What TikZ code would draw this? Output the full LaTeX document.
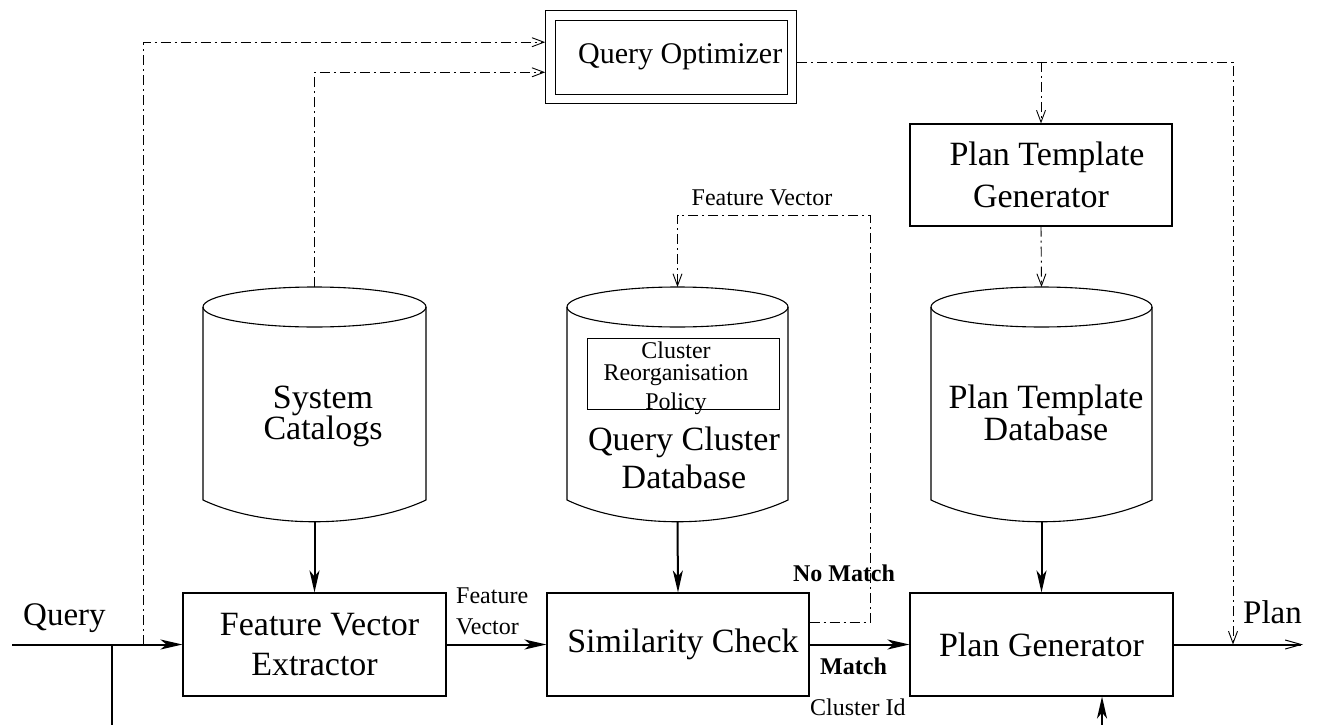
\documentclass[tikz,border=0pt]{standalone}
\usepackage{fontspec}
\setmainfont{Liberation Serif}
\usetikzlibrary{arrows.meta,calc}

% database drum: name, centre x, half width
\newcommand{\dbcyl}[3]{%
  \draw[cyl] (#2,307) ellipse [x radius=#3, y radius=20];
  \draw[cyl] (#2-#3,307) -- (#2-#3,500) .. controls (#2-0.45*#3,529) and (#2+0.45*#3,529) .. (#2+#3,500) -- (#2+#3,307);
  \coordinate (#1-top) at (#2,287);
  \coordinate (#1-bot) at (#2,522);
}

\begin{document}
\begin{tikzpicture}[x=1pt,y=1pt,yscale=-1,xscale=1,
  box/.style={draw, line width=1.1pt, minimum width=263pt, minimum height=103pt, inner sep=0pt, align=center, font=\fontsize{34}{40}\selectfont},
  cyl/.style={line width=1.1pt},
  lbl/.style={inner sep=0pt, font=\fontsize{24}{31}\selectfont},
  big/.style={inner sep=0pt, align=center, font=\fontsize{34}{31}\selectfont},
  flow/.style={line width=2pt, -{Stealth[length=22pt,width=10pt,inset=6pt]}},
  ctrl/.style={line width=0.9pt, dash pattern=on 10pt off 4pt on 2pt off 4pt, -{Straight Barb[length=12pt,width=9pt]}}]
\useasboundingbox (0,0) rectangle (1319,725);

%Databases
\dbcyl{syscat}{314.5}{111.5}
\dbcyl{qcdb}{677.5}{110.5}
\dbcyl{ptdb}{1041.5}{110.5}

% Boxes
\node[box] (fve) at (314.5,644.5) {\hspace*{10pt}Feature Vector\\Extractor};
\node[box, minimum width=262pt] (simchk) at (678,644.5) {\hspace*{10pt}Similarity Check};
\node[box] (plangen) at (1041.5,644.5) {Plan Generator};
\node[box, minimum width=262pt, minimum height=102pt, font=\fontsize{34}{42}\selectfont] (ptg) at (1041,175) {\hspace*{12pt}Plan Template\\Generator};
\node[draw, double, line width=1pt, double distance=8.5pt, outer sep=5.25pt, minimum width=241.5pt, minimum height=83.5pt, font=\fontsize{30}{36}\selectfont] (qopt) at (671.25,57.25) {\hspace*{18pt}Query Optimizer};
\node[draw, line width=1pt, minimum width=192pt, minimum height=71pt] (policy) at (683,373.5) {};

% Text Node
\node[big] (syscattxt) at (323,416) {System\\Catalogs};
\node[big, font=\fontsize{34}{38}\selectfont] (qcdbtxt) at (684,457.5) {Query Cluster\\Database};
\node[big, font=\fontsize{34}{32}\selectfont] (ptdbtxt) at (1046,412.5) {Plan Template\\Database};
\node[lbl, align=center, font=\fontsize{24}{22}\selectfont] (policytxt) at (676,378) {Cluster\\Reorganisation\\[7pt]Policy};
\node[lbl, anchor=base west, font=\fontsize{33}{36}\selectfont] (querytxt) at (23,625) {Query};
\node[lbl, anchor=base west, font=\fontsize{33}{36}\selectfont] (plantxt) at (1243,623) {Plan};
\node[lbl, anchor=north west, align=left] (fvtxt) at (456,588) {Feature\\Vector};
\node[lbl, anchor=base] (fvtoptxt) at (762,205) {Feature Vector};
\node[lbl, anchor=base, font=\fontsize{24}{31}\selectfont\bfseries] (nomatchtxt) at (844,581) {No Match};
\node[lbl, anchor=base west, font=\fontsize{24}{31}\selectfont\bfseries] (matchtxt) at (820,674) {Match};
\node[lbl, anchor=base west] (cidtxt) at (810,715) {Cluster Id};

% free ends and bends
\coordinate (qin) at (12,644.5);
\coordinate (qsplit) at (112,644.5);
\coordinate (qdown) at (112,725);
\coordinate (qtap) at (143,644.5);
\coordinate (plantap) at (1233,644.5);
\coordinate (planout) at (1303,644.5);
\coordinate (cidin) at (1102,725);
\coordinate (fvloop) at (870,215);
\coordinate (optin1) at ($(qopt.north west)!0.34!(qopt.south west)$);
\coordinate (optin2) at ($(qopt.north west)!0.66!(qopt.south west)$);
\coordinate (optout) at ($(qopt.north east)!0.55!(qopt.south east)$);
\coordinate (fvout) at ($(simchk.north east)!0.29!(simchk.south east)$);

%Straight Lines
\draw[flow] (qin) -- (fve.west);
\draw[line width=2pt] (qsplit) -- (qdown);
\draw[flow] (fve.east) -- (simchk.west);
\draw[flow] (simchk.east) -- (plangen.west);
\draw[line width=2pt, -{Straight Barb[length=16pt,width=9pt,line width=1pt]}] (plangen.east) -- (planout);
\draw[flow] (cidin) -- (cidin |- plangen.south);
\draw[flow] (syscat-bot) -- (fve.north);
\draw[flow] (qcdb-bot) -- (simchk.north);
\draw[flow] (ptdb-bot) -- (plangen.north);

%Dash-dot Lines
\draw[ctrl] (qtap) |- (optin1);
\draw[ctrl] (syscat-top) |- (optin2);
\draw[ctrl] (optout) -| (plantap);
\draw[ctrl] (ptg.north |- optout) -- (ptg.north);
\draw[ctrl] (ptg.south) -- (ptdb-top);
\draw[ctrl] (fvout) -| (fvloop) -| (qcdb-top);
\end{tikzpicture}
\end{document}
